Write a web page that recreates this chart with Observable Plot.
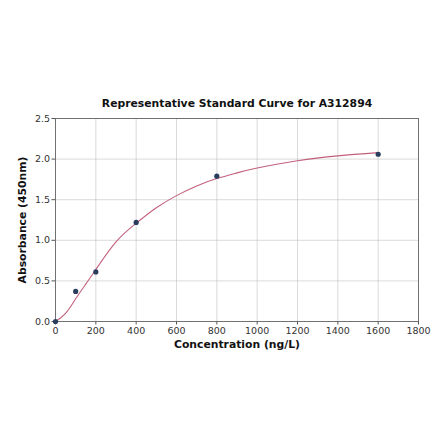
<!DOCTYPE html>
<html>
<head>
<meta charset="utf-8">
<script src="https://cdn.jsdelivr.net/npm/d3@7"></script>
<script src="https://cdn.jsdelivr.net/npm/@observablehq/plot@0.6"></script>
<style>
  html, body { margin: 0; padding: 0; background: #fff; }
  #chart svg { display: block; }
</style>
</head>
<body>
<div id="chart"></div>
<script>
// Standard points
const pointX = [0, 100, 200, 400, 800, 1600];
const pointY = [0.0, 0.37, 0.61, 1.22, 1.79, 2.06];
// Fitted curve
const curveX = [0, 50, 100, 150, 200, 300, 400, 500, 600, 700, 800, 900, 1000, 1200, 1400, 1600];
const curveY = [0.0, 0.10, 0.28, 0.46, 0.64, 0.98, 1.21, 1.40, 1.55, 1.67, 1.76, 1.83, 1.89, 1.98, 2.04, 2.08];
// Ticks
const xTicks = [0, 200, 400, 600, 800, 1000, 1200, 1400, 1600, 1800];
const yTicks = [0.0, 0.5, 1.0, 1.5, 2.0, 2.5];
const titleText = "Representative Standard Curve for A312894";
const xLabel = "Concentration (ng/L)";
const yLabel = "Absorbance (450nm)";

const points = pointX.map((x, i) => ({x, y: pointY[i]}));
const curve = curveX.map((x, i) => ({x, y: curveY[i]}));

const font = "DejaVu Sans, sans-serif";

const chart = Plot.plot({
  width: 440,
  height: 441,
  marginLeft: 55,
  marginRight: 22,
  marginTop: 118,
  marginBottom: 120,
  style: {fontFamily: font, fontSize: "9.5px", color: "#333", background: "#fff"},
  x: {domain: [0, 1800]},
  y: {domain: [0, 2.5]},
  marks: [
    Plot.gridX(xTicks, {stroke: "#b0b0b0", strokeOpacity: 0.6, strokeWidth: 0.8}),
    Plot.gridY(yTicks, {stroke: "#b0b0b0", strokeOpacity: 0.6, strokeWidth: 0.8}),
    Plot.axisX(xTicks, {label: null, tickSize: 3.5, tickPadding: 2, tickFormat: d => String(d), stroke: "#555", fill: "#333", fontSize: 9.5}),
    Plot.axisY(yTicks, {label: null, tickSize: 3.5, tickPadding: 2, tickFormat: d => d.toFixed(1), stroke: "#555", fill: "#333", fontSize: 9.5}),
    Plot.frame({stroke: "#666", strokeWidth: 0.9}),
    Plot.line(curve, {x: "x", y: "y", curve: "natural", stroke: "#c2607c", strokeWidth: 1.1}),
    Plot.dot(points, {x: "x", y: "y", r: 2.6, fill: "#2a3d5e", stroke: "none"}),
    Plot.text([titleText], {frameAnchor: "top", dy: -19, text: d => d, fontWeight: "bold", fontSize: 10.8, fill: "#111"}),
    Plot.text([xLabel], {frameAnchor: "bottom", dy: 26, text: d => d, fontWeight: "bold", fontSize: 10.8, fill: "#111"}),
    Plot.text([yLabel], {frameAnchor: "left", dx: -33, rotate: -90, textAnchor: "middle", text: d => d, fontWeight: "bold", fontSize: 10.8, fill: "#111"})
  ]
});
document.getElementById("chart").append(chart);
</script>
</body>
</html>
